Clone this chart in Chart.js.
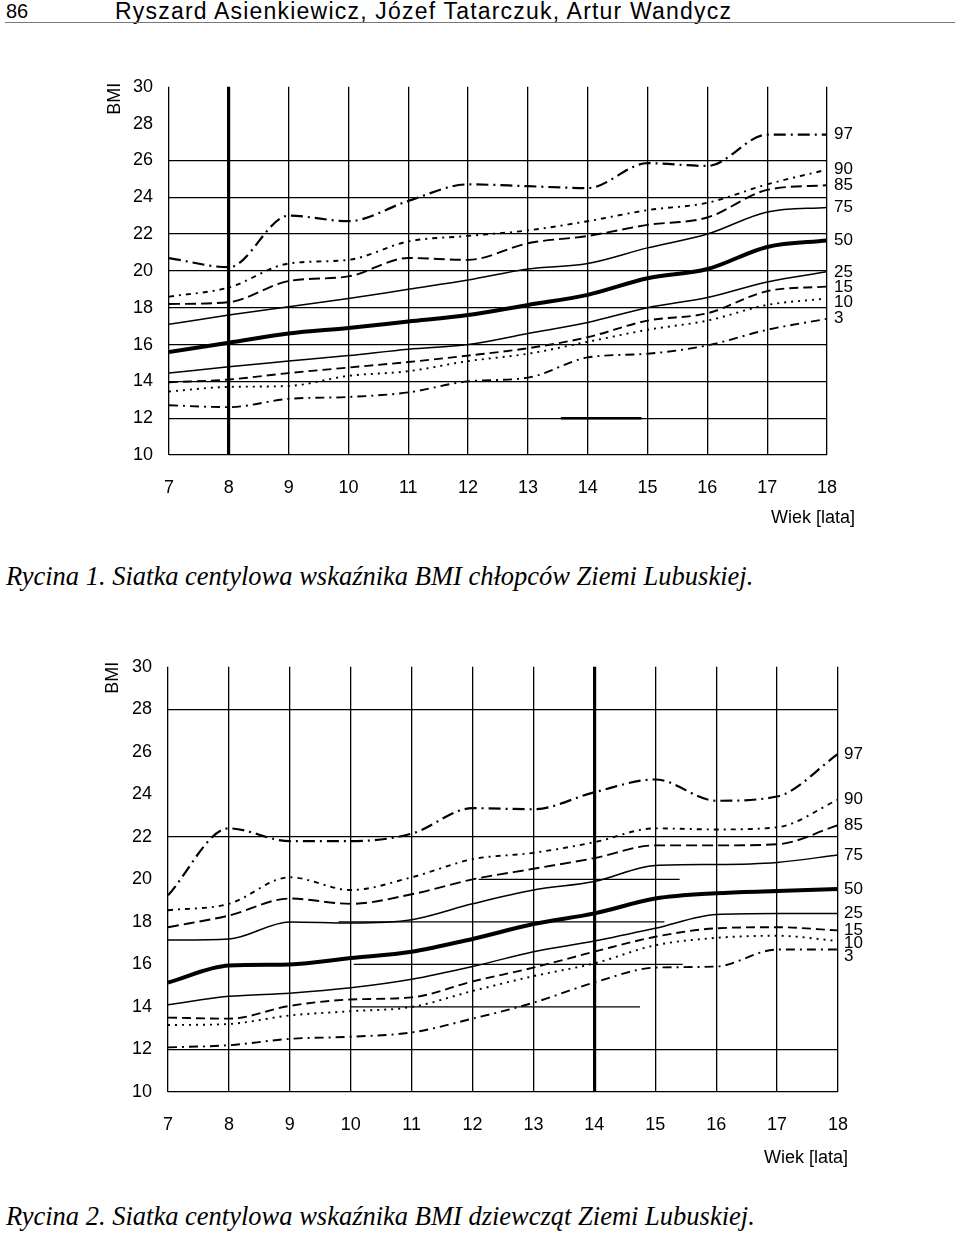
<!DOCTYPE html>
<html>
<head>
<meta charset="utf-8">
<script src="https://cdn.jsdelivr.net/npm/chart.js@4.4.1/dist/chart.umd.min.js"></script>
<style>
  body { margin: 0; background: #fff; width: 960px; height: 1237px; position: relative; overflow: hidden; font-family: "Liberation Sans", Arial, sans-serif; color: #000; }
  .hdr { position: absolute; top: 0; font-size: 20px; line-height: 22px; white-space: nowrap; }
  .rule { position: absolute; left: 5px; top: 22px; width: 950px; border-top: 1px solid #777; }
  .cap { position: absolute; left: 6px; font-family: "Liberation Serif", "Times New Roman", serif; font-style: italic; font-size: 26.5px; white-space: nowrap; }
  canvas { position: absolute; left: 0; }
</style>
</head>
<body>
<div class="hdr" style="left:6px">86</div>
<div class="hdr" style="left:115px;font-size:23px;letter-spacing:1.2px">Ryszard Asienkiewicz, Józef Tatarczuk, Artur Wandycz</div>
<div class="rule"></div>

<canvas id="chartBoys" width="960" height="480" style="top:60px"></canvas>
<div class="cap" style="top:561px">Rycina 1. Siatka centylowa wskaźnika BMI chłopców Ziemi Lubuskiej.</div>

<canvas id="chartGirls" width="960" height="540" style="top:640px"></canvas>
<div class="cap" style="top:1201px">Rycina 2. Siatka centylowa wskaźnika BMI dziewcząt Ziemi Lubuskiej.</div>

<script>
// ---- dane ----
const ages = [7, 8, 9, 10, 11, 12, 13, 14, 15, 16, 17, 18];
const centyle = ['97', '90', '85', '75', '50', '25', '15', '10', '3'];

const boysP97 = [20.7, 20.2, 23.0, 22.7, 23.8, 24.7, 24.6, 24.5, 25.85, 25.7, 27.4, 27.4];
const boysP90 = [18.6, 19.1, 20.4, 20.6, 21.6, 21.9, 22.2, 22.7, 23.3, 23.7, 24.7, 25.5];
const boysP85 = [18.2, 18.3, 19.45, 19.7, 20.7, 20.6, 21.5, 21.9, 22.5, 22.9, 24.4, 24.65];
const boysP75 = [17.1, 17.6, 18.05, 18.5, 19.0, 19.5, 20.1, 20.4, 21.25, 22.0, 23.2, 23.45];
const boysP50 = [15.6, 16.1, 16.6, 16.9, 17.25, 17.6, 18.15, 18.7, 19.6, 20.1, 21.3, 21.65];
const boysP25 = [14.45, 14.8, 15.1, 15.4, 15.75, 16.0, 16.6, 17.2, 18.0, 18.55, 19.4, 19.95];
const boysP15 = [13.95, 14.1, 14.45, 14.75, 15.05, 15.4, 15.8, 16.4, 17.3, 17.7, 18.9, 19.15];
const boysP10 = [13.45, 13.7, 13.75, 14.3, 14.55, 15.1, 15.5, 16.15, 16.8, 17.3, 18.15, 18.5];
const boysP3  = [12.7, 12.6, 13.05, 13.15, 13.4, 14.0, 14.2, 15.3, 15.5, 15.95, 16.8, 17.4];

const girlsP97 = [19.25, 22.4, 21.8, 21.8, 22.15, 23.35, 23.3, 24.1, 24.7, 23.7, 23.9, 25.9];
const girlsP90 = [18.55, 18.85, 20.1, 19.5, 20.1, 20.95, 21.25, 21.75, 22.4, 22.35, 22.45, 23.75];
const girlsP85 = [17.75, 18.3, 19.1, 18.85, 19.3, 20.0, 20.5, 21.0, 21.6, 21.6, 21.65, 22.55];
const girlsP75 = [17.15, 17.2, 18.0, 17.95, 18.1, 18.85, 19.5, 19.9, 20.65, 20.7, 20.8, 21.15];
const girlsP50 = [15.15, 15.95, 16.0, 16.3, 16.6, 17.2, 17.9, 18.4, 19.1, 19.35, 19.45, 19.55];
const girlsP25 = [14.1, 14.5, 14.65, 14.9, 15.3, 15.9, 16.6, 17.1, 17.7, 18.35, 18.4, 18.4];
const girlsP15 = [13.5, 13.45, 14.05, 14.35, 14.45, 15.2, 15.85, 16.6, 17.3, 17.7, 17.75, 17.6];
const girlsP10 = [13.15, 13.2, 13.6, 13.8, 14.0, 14.75, 15.45, 16.05, 16.9, 17.25, 17.35, 17.1];
const girlsP3  = [12.1, 12.2, 12.5, 12.6, 12.8, 13.45, 14.2, 15.15, 15.85, 15.9, 16.7, 16.7];

const yTicks = [10, 12, 14, 16, 18, 20, 22, 24, 26, 28, 30];
const boysGridY = [10, 12, 14, 16, 18, 20, 22, 24, 26];
const girlsGridY = [10, 12, 22, 28];

// krotkie odcinki linii siatki na rysunku (wartosc BMI, wiek od, wiek do)
const boysRuleY = [12];
const boysRuleFrom = [13.55];
const boysRuleTo = [14.9];
const girlsRuleY = [20, 18, 16, 14];
const girlsRuleFrom = [12.1, 9.8, 10.05, 10.0];
const girlsRuleTo = [15.4, 15.15, 15.45, 14.75];

// ---- styl linii centyli ----
const lineStyle = {
  '97': { w: 2.2, dash: [12, 5, 2, 5] },
  '90': { w: 1.9, dash: [5, 5, 2, 5] },
  '85': { w: 1.9, dash: [11, 5] },
  '75': { w: 1.5, dash: [] },
  '50': { w: 4, dash: [] },
  '25': { w: 1.5, dash: [] },
  '15': { w: 1.9, dash: [9, 5] },
  '10': { w: 1.9, dash: [2, 5] },
  '3':  { w: 1.9, dash: [9, 5, 2, 5] }
};

const FONT = '"Liberation Sans", Arial, sans-serif';

function buildChart(id, series, gridY, rules, thickAge, cfg) {
  const datasets = series.map((vals, i) => {
    const st = lineStyle[centyle[i]];
    return {
      label: centyle[i],
      data: ages.map((a, j) => ({ x: a, y: vals[j] })),
      borderColor: '#000', borderWidth: st.w, borderDash: st.dash,
      pointRadius: 0, cubicInterpolationMode: 'monotone', fill: false
    };
  });
  rules.y.forEach((v, i) => {
    datasets.push({
      label: 'rule' + i,
      data: [{ x: rules.from[i], y: v }, { x: rules.to[i], y: v }],
      borderColor: '#000', borderWidth: rules.width, pointRadius: 0, tension: 0, fill: false
    });
  });

  const textPlugin = {
    id: 'teksty',
    afterDraw(chart) {
      const { ctx, chartArea, scales } = chart;
      ctx.save();
      ctx.fillStyle = '#000';
      // opisy centyli z prawej strony
      ctx.font = '17px ' + FONT;
      ctx.textAlign = 'left';
      ctx.textBaseline = 'middle';
      const pos = series.map(vals => scales.y.getPixelForValue(vals[vals.length - 1]));
      for (let i = 1; i < pos.length; i++) if (pos[i] - pos[i - 1] < cfg.gap) pos[i] = pos[i - 1] + cfg.gap;
      pos.forEach((p, i) => ctx.fillText(centyle[i], chartArea.right + cfg.labelDx, p));
      // BMI
      ctx.font = '18px ' + FONT;
      ctx.save();
      ctx.translate(chartArea.left + cfg.bmiDx, chartArea.top + cfg.bmiDy);
      ctx.rotate(-Math.PI / 2);
      ctx.textAlign = 'center';
      ctx.fillText('BMI', 0, 0);
      ctx.restore();
      // Wiek [lata]
      ctx.textAlign = 'right';
      ctx.fillText('Wiek [lata]', chartArea.right + cfg.wiekDx, chartArea.bottom + cfg.wiekDy);
      ctx.restore();
    }
  };

  return new Chart(document.getElementById(id), {
    type: 'line',
    data: { datasets },
    plugins: [textPlugin],
    options: {
      responsive: false,
      animation: false,
      layout: { padding: { top: cfg.top, right: cfg.right, left: 0, bottom: 0 } },
      plugins: { legend: { display: false }, tooltip: { enabled: false } },
      scales: {
        x: {
          type: 'linear', min: 7, max: 18,
          afterFit: s => { s.height = cfg.xh; },
          ticks: { stepSize: 1, color: '#000', font: { family: FONT, size: 18 }, padding: 22 },
          grid: { color: '#000', drawTicks: false, lineWidth: c => c.tick && c.tick.value === thickAge ? 3.2 : 1.3 },
          border: { display: false }
        },
        y: {
          min: 10, max: 30,
          afterFit: s => { s.width = cfg.yw; },
          afterBuildTicks: s => { s.ticks = yTicks.map(v => ({ value: v })); },
          ticks: { color: '#000', font: { family: FONT, size: 18 }, padding: 16 },
          grid: { drawTicks: false, lineWidth: 1.3, color: c => c.tick && gridY.includes(c.tick.value) ? '#000' : 'rgba(0,0,0,0)' },
          border: { display: false }
        }
      }
    }
  });
}

buildChart('chartBoys',
  [boysP97, boysP90, boysP85, boysP75, boysP50, boysP25, boysP15, boysP10, boysP3],
  boysGridY,
  { y: boysRuleY, from: boysRuleFrom, to: boysRuleTo, width: 2.4 },
  8,
  { top: 26, right: 133, yw: 169, xh: 85, gap: 15, labelDx: 7, bmiDx: -54, bmiDy: 12, wiekDx: 28, wiekDy: 63 });

buildChart('chartGirls',
  [girlsP97, girlsP90, girlsP85, girlsP75, girlsP50, girlsP25, girlsP15, girlsP10, girlsP3],
  girlsGridY,
  { y: girlsRuleY, from: girlsRuleFrom, to: girlsRuleTo, width: 1.3 },
  14,
  { top: 23, right: 122, yw: 168, xh: 88, gap: 13, labelDx: 6, bmiDx: -55, bmiDy: 11, wiekDx: 10, wiekDy: 66 });
</script>
</body>
</html>
